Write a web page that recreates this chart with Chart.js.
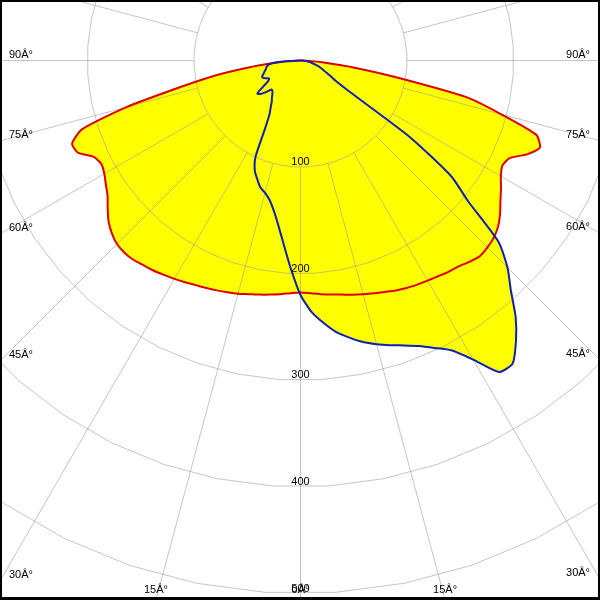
<!DOCTYPE html>
<html><head><meta charset="utf-8">
<script src="https://cdn.jsdelivr.net/npm/chart.js@4.4.1/dist/chart.umd.min.js"></script>
<style>html,body{margin:0;padding:0;background:#fff}canvas{display:block}</style>
</head><body>
<canvas id="c" width="600" height="600"></canvas>
<script>
// Gamma angles (degrees from nadir), 2.5 degree steps
const GAMMA = [0,2.5,5,7.5,10,12.5,15,17.5,20,22.5,25,27.5,30,32.5,35,37.5,40,42.5,45,47.5,50,52.5,55,57.5,60,62.5,65,67.5,70,72.5,75,77.5,80,82.5,85,87.5,90];
// Red plane (left half / right half), intensity values
const RED_LEFT  = [217.6,218.5,220,221.5,223,224.5,226.5,228,229.5,231,232.5,234.5,236.5,238.5,240.5,242,244,244.5,243.5,240,235,228,221,216.5,212.5,210.5,214,226,228,215,169,116,82,48,22,8,0];
const RED_RIGHT = [217.6,218.5,220,221.5,223,225,227,229,231,233.5,235.5,237,238.5,240,242,243.5,246.5,249,248,246,242,236,229,223,217,213.5,216.5,230,239,232,195,160,92,50,22,8,0];
// Blue plane (left half / right half)
const BLUE_LEFT  = [220,197,175,157,143.5,134,128.5,125,118.5,112,100,72,58,52,47,44,41,39,38.5,44,49,51,43,36,34,36,38.5,39,37,35.5,34,33,32,30,26,14,0];
const BLUE_RIGHT = [220,236,247,257,264,270.5,275.5,280,284.5,290,297.5,306.5,324,346.5,347,332,314,292,274.6,252,205,178,125,55,38,32,27,23,20,17,14,11,9,6,4,2,0];

const RINGS = [100,200,300,400,500];
const RING_LABELS = ['100','200','300','400','500'];
const ANGLE_TICKS = [0,15,30,45,60,75,90];
const ANGLE_LABELS = ['0Â°','15Â°','30Â°','45Â°','60Â°','75Â°','90Â°'];
const SPOKE_STEP = 15;

const K = 1.066;          // pixels per unit
const CX = 300.5, CY = 60.5; // pole position in pixels
const W = 600, H = 600;

function toXY(r, g, side) {
  const a = g * Math.PI / 180;
  return { x: side * r * Math.sin(a), y: -r * Math.cos(a) };
}
function closedCurve(left, right) {
  const pts = [];
  for (let i = GAMMA.length - 1; i >= 0; i--) pts.push(toXY(left[i], GAMMA[i], -1));
  for (let i = 1; i < GAMMA.length; i++) pts.push(toXY(right[i], GAMMA[i], 1));
  return pts;
}

const FONT = '11px "Liberation Sans", Arial, sans-serif';

const polarGrid = {
  id: 'polarGrid',
  beforeDatasetsDraw(chart) {
    const ctx = chart.ctx, xs = chart.scales.x, ys = chart.scales.y;
    const P = (x, y) => [xs.getPixelForValue(x), ys.getPixelForValue(y)];
    ctx.save();
    ctx.strokeStyle = 'rgba(150,150,150,0.55)';
    ctx.lineWidth = 1;
    RINGS.forEach(r => {
      ctx.beginPath();
      for (let i = 0; i <= 48; i++) {
        const a = (3.75 + i * 7.5) * Math.PI / 180;
        const [px, py] = P(r * Math.sin(a), -r * Math.cos(a));
        if (i) ctx.lineTo(px, py); else ctx.moveTo(px, py);
      }
      ctx.closePath();
      ctx.stroke();
    });
    for (let g = 0; g < 360; g += SPOKE_STEP) {
      const a = g * Math.PI / 180;
      const [x0, y0] = P(RINGS[0] * Math.sin(a), -RINGS[0] * Math.cos(a));
      const [x1, y1] = P(800 * Math.sin(a), -800 * Math.cos(a));
      ctx.beginPath(); ctx.moveTo(x0, y0); ctx.lineTo(x1, y1); ctx.stroke();
    }
    ctx.restore();
  },
  afterDatasetsDraw(chart) {
    const ctx = chart.ctx, xs = chart.scales.x, ys = chart.scales.y;
    const cx = xs.getPixelForValue(0), cy = ys.getPixelForValue(0);
    ctx.save();
    ctx.font = FONT;
    ctx.fillStyle = '#000';
    ctx.textBaseline = 'alphabetic';
    RINGS.forEach((r, i) => {
      const py = ys.getPixelForValue(-r);
      ctx.textAlign = 'center';
      ctx.fillText(RING_LABELS[i], cx, Math.min(py - 2, H - 8));
    });
    ANGLE_TICKS.forEach((g, i) => {
      const sides = g === 0 ? [1] : [-1, 1];
      sides.forEach(s => {
        const a = g * Math.PI / 180;
        const dx = s * Math.sin(a), dy = Math.cos(a);
        const tSide = Math.abs(dx) > 1e-9 ? (s > 0 ? (W - cx) / dx : cx / -dx) : Infinity;
        const tBot = dy > 1e-9 ? (H - cy) / dy : Infinity;
        if (tSide <= tBot) {
          const y = cy + tSide * dy;
          ctx.textAlign = s < 0 ? 'left' : 'right';
          ctx.fillText(ANGLE_LABELS[i], s < 0 ? 9 : W - 10, Math.min(y - 3, H - 7));
        } else {
          const x = cx + tBot * dx;
          ctx.textAlign = 'center';
          ctx.fillText(ANGLE_LABELS[i], x, H - 7);
        }
      });
    });
    ctx.fillStyle = '#000';
    ctx.fillRect(0, 0, W, 2);
    ctx.fillRect(0, 0, 2, H);
    ctx.fillRect(W - 2, 0, 2, H);
    ctx.fillRect(0, H - 3, W, 3);
    ctx.restore();
  }
};

new Chart(document.getElementById('c'), {
  type: 'scatter',
  data: {
    datasets: [
      { label: 'blue', data: closedCurve(BLUE_LEFT, BLUE_RIGHT), showLine: true, fill: 'shape',
        backgroundColor: '#ffff00', borderColor: '#1020b0', borderWidth: 2, pointRadius: 0, tension: 0.2, borderJoinStyle: 'round' },
      { label: 'red', data: closedCurve(RED_LEFT, RED_RIGHT), showLine: true, fill: 'shape',
        backgroundColor: '#ffff00', borderColor: '#dd0000', borderWidth: 2, pointRadius: 0, tension: 0.2, borderJoinStyle: 'round' }
    ]
  },
  options: {
    responsive: false,
    animation: false,
    devicePixelRatio: 1,
    layout: { padding: 0 },
    events: [],
    plugins: { legend: { display: false }, tooltip: { enabled: false }, filler: { drawTime: 'beforeDatasetsDraw' } },
    scales: {
      x: { type: 'linear', display: false, min: -CX / K, max: (W - CX) / K },
      y: { type: 'linear', display: false, min: -(H - CY) / K, max: CY / K }
    }
  },
  plugins: [polarGrid]
});
</script>
</body></html>
